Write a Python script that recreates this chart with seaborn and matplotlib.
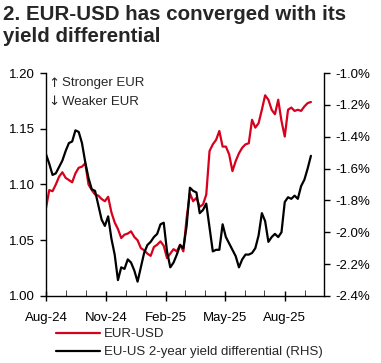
import matplotlib
matplotlib.use("Agg")
import matplotlib.pyplot as plt
import matplotlib.dates as mdates
from matplotlib.ticker import FuncFormatter
import seaborn as sns
import pandas as pd

# EUR-USD, sampled every 5 days from 1 Aug 2024
eurusd = [1.079, 1.095, 1.094, 1.100, 1.107, 1.111, 1.106, 1.104, 1.102, 1.110,
          1.115, 1.116, 1.119, 1.100, 1.095, 1.091, 1.090, 1.087, 1.085, 1.089,
          1.075, 1.066, 1.060, 1.052, 1.055, 1.056, 1.058, 1.053, 1.050, 1.043,
          1.041, 1.038, 1.036, 1.044, 1.046, 1.049, 1.045, 1.034, 1.038, 1.042,
          1.040, 1.046, 1.040, 1.070, 1.092, 1.085, 1.088, 1.080, 1.082, 1.091,
          1.130, 1.136, 1.140, 1.148, 1.134, 1.134, 1.127, 1.112, 1.121, 1.128,
          1.133, 1.136, 1.137, 1.158, 1.151, 1.155, 1.167, 1.180, 1.176, 1.167,
          1.163, 1.176, 1.157, 1.143, 1.167, 1.169, 1.166, 1.167, 1.166, 1.170,
          1.173, 1.174]

# EU-US 2-year yield differential (%), same dates
spread = [-1.51, -1.57, -1.64, -1.63, -1.59, -1.55, -1.49, -1.44, -1.43, -1.36,
          -1.37, -1.44, -1.56, -1.66, -1.73, -1.74, -1.83, -1.92, -1.96, -1.90,
          -2.04, -2.14, -2.30, -2.22, -2.23, -2.17, -2.19, -2.24, -2.31, -2.22,
          -2.13, -2.08, -2.06, -2.03, -2.01, -1.95, -1.94, -2.12, -2.22, -2.19,
          -2.14, -2.08, -2.10, -1.96, -1.72, -1.74, -1.75, -1.88, -1.86, -1.82,
          -1.97, -2.12, -2.11, -2.11, -1.95, -2.03, -2.07, -2.11, -2.15, -2.22,
          -2.17, -2.14, -2.14, -2.13, -2.10, -2.02, -1.88, -1.93, -2.06, -2.03,
          -2.01, -2.03, -2.00, -1.81, -1.78, -1.79, -1.77, -1.79, -1.71, -1.67,
          -1.60, -1.52]

dates = pd.date_range("2024-08-01", periods=len(eurusd), freq="5D")
df = pd.DataFrame({"date": dates, "EUR-USD": eurusd, "spread": spread})

sns.set_style("ticks")
plt.rcParams["font.family"] = ["Liberation Sans", "DejaVu Sans"]
plt.rcParams["font.size"] = 9.5

red = "#d7001d"

fig = plt.figure(figsize=(3.81, 3.63), dpi=100)
ax = fig.add_axes([46 / 381, 67 / 363, 278 / 381, 223 / 363])
ax2 = ax.twinx()

sns.lineplot(data=df, x="date", y="EUR-USD", ax=ax, color=red, linewidth=1.6, label="EUR-USD", legend=False)
sns.lineplot(data=df, x="date", y="spread", ax=ax2, color="black", linewidth=1.6,
             label="EU-US 2-year yield differential (RHS)", legend=False)

ax.set_ylim(1.00, 1.20)
ax.set_yticks([1.00, 1.05, 1.10, 1.15, 1.20])
ax.yaxis.set_major_formatter(FuncFormatter(lambda v, p: f"{v:.2f}"))
ax2.set_ylim(-2.4, -1.0)
ax2.set_yticks([-2.4, -2.2, -2.0, -1.8, -1.6, -1.4, -1.2, -1.0])
ax2.yaxis.set_major_formatter(FuncFormatter(lambda v, p: f"{v:.1f}%"))

ax.set_xlim(pd.Timestamp("2024-08-01"), pd.Timestamp("2025-09-30"))
ax.xaxis.set_major_locator(mdates.MonthLocator(bymonth=[2, 5, 8, 11]))
ax.xaxis.set_minor_locator(mdates.MonthLocator())
ax.xaxis.set_major_formatter(mdates.DateFormatter("%b-%y"))

ax.set_xlabel("")
ax.set_ylabel("")
ax2.set_ylabel("")

for a in (ax, ax2):
    a.spines["top"].set_visible(False)
    for s in a.spines.values():
        s.set_linewidth(1.0)
        s.set_color("black")
    a.tick_params(colors="black", labelsize=9.5, width=1.0)
ax.spines["right"].set_visible(False)
ax2.spines["left"].set_visible(False)
ax2.spines["bottom"].set_visible(False)
ax.tick_params(axis="y", length=4, direction="out", pad=4)
ax2.tick_params(axis="y", length=4, direction="out", pad=4)
ax.tick_params(axis="x", which="major", direction="inout", length=7, pad=8)
ax.tick_params(axis="x", which="minor", direction="in", length=4)

# direction notes, arrows drawn in DejaVu for a full-height glyph
ax.text(0.008, 0.955, "↑", transform=ax.transAxes, ha="left", va="center", fontsize=9.5,
        family=["DejaVu Sans"])
ax.text(0.008, 0.87, "↓", transform=ax.transAxes, ha="left", va="center", fontsize=9.5,
        family=["DejaVu Sans"])
ax.text(0.058, 0.955, "Stronger EUR", transform=ax.transAxes, ha="left", va="center", fontsize=9.5)
ax.text(0.058, 0.87, "Weaker EUR", transform=ax.transAxes, ha="left", va="center", fontsize=9.5)

fig.text(0.008, 0.985, "2. EUR-USD has converged with its\nyield differential", ha="left", va="top",
         fontsize=14.8, fontweight="bold", linespacing=1.2)

handles = ax.get_lines()[:1] + ax2.get_lines()[:1]
fig.legend(handles, [h.get_label() for h in handles], loc="upper left",
           bbox_to_anchor=(56 / 381, 1 - 328 / 363), frameon=False, fontsize=9.5,
           handlelength=3.3, handletextpad=0.3, labelspacing=0.45, borderaxespad=0, borderpad=0)

fig.savefig("out.png", dpi=100)
